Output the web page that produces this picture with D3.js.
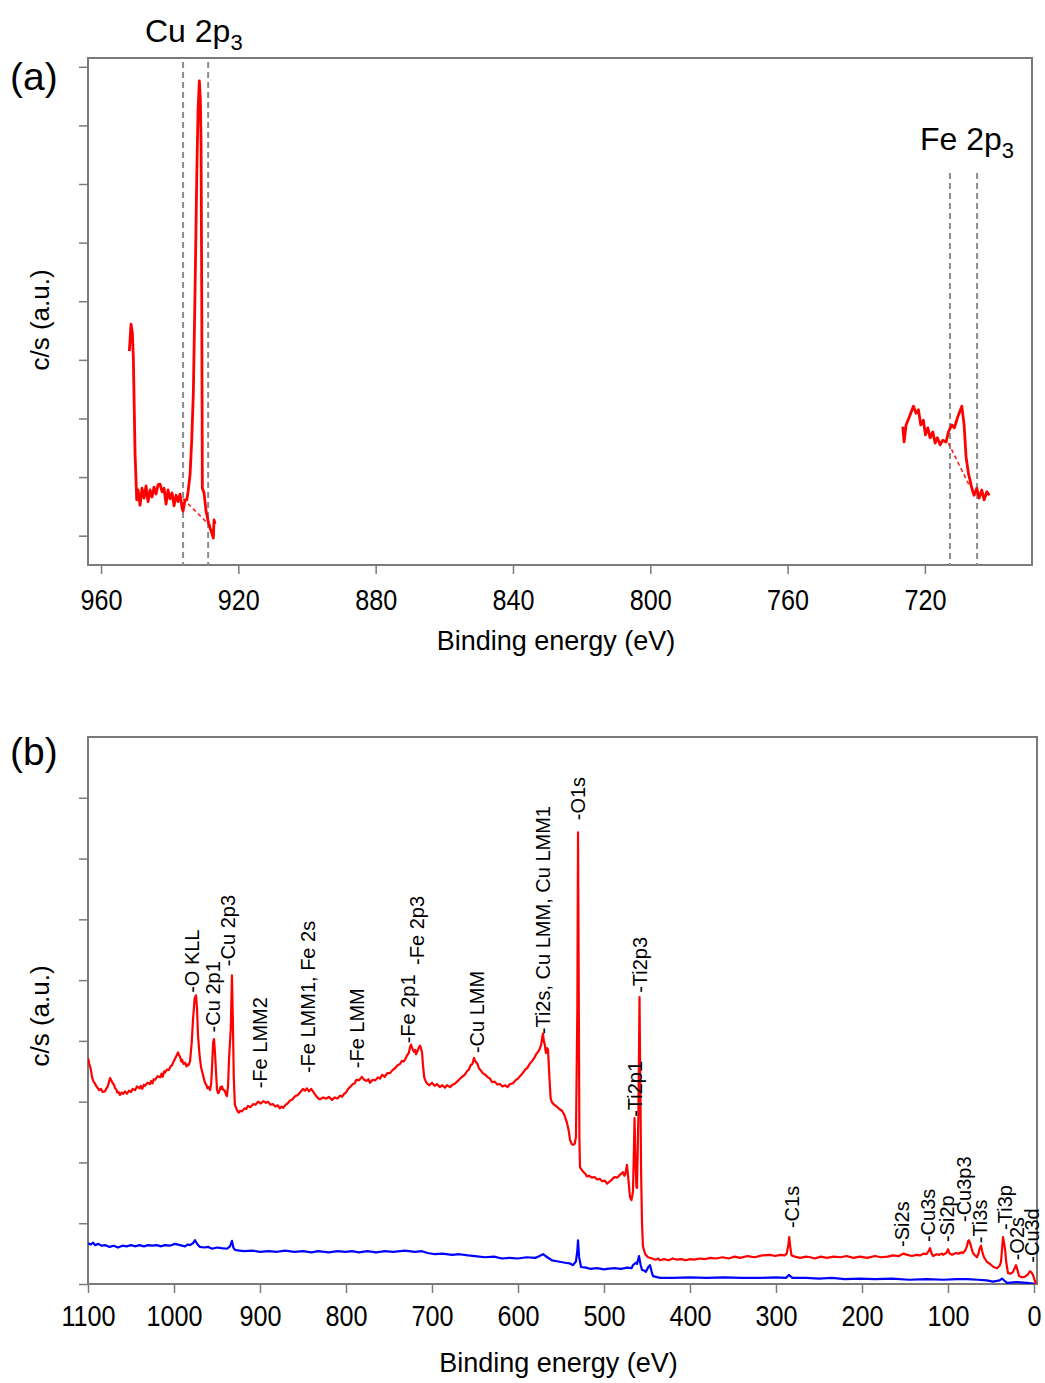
<!DOCTYPE html>
<html><head><meta charset="utf-8">
<script src="https://cdn.jsdelivr.net/npm/d3@7"></script>
<style>
html,body{margin:0;padding:0;background:#fff;}
svg{display:block;font-family:"Liberation Sans",Arial,Helvetica,sans-serif;}
</style></head>
<body>
<svg id="chart" width="1045" height="1383"></svg>
<script>
// ---------- Panel (a) data: binding energy (eV), intensity (a.u.) ----------
const aXTicks = [960, 920, 880, 840, 800, 760, 720];
const aYTicks = [0.5, 1.5, 2.5, 3.5, 4.5, 5.5, 6.5, 7.5, 8.5];
const cuRegion = [
 [951.76,3.65],[951.26,4.11],[950.88,3.96],[950.59,3.55],[950.09,1.89],[949.60,1.11],[949.22,1.28],
 [948.64,1.02],[948.06,1.31],[947.47,1.14],[946.89,1.35],[946.31,1.08],[945.72,1.28],[945.14,1.16],
 [944.56,1.33],[943.98,1.21],[943.39,1.37],[942.81,1.38],[942.23,1.25],[941.65,1.31],[941.06,1.04],
 [940.48,1.28],[939.90,1.13],[939.32,1.23],[938.73,1.01],[938.15,1.19],[937.57,1.08],[936.98,1.21],
 [936.40,0.97],[936.11,0.92],[935.53,1.11],[935.03,1.11],[934.65,1.25],[934.07,1.54],[933.58,2.13],
 [933.11,2.94],[932.61,4.69],[932.12,6.62],[931.74,7.76],[931.36,8.26],[931.07,7.94],[930.87,7.24],
 [930.66,4.52],[930.49,1.31],[929.99,1.23],[929.41,0.92],[928.74,0.73],[928.24,0.63],[927.75,0.55],
 [927.28,0.46],[927.08,0.77],[926.79,0.70]
];
const cuBackground = [[936.11,1.13],[928.24,0.67]];
const feRegion = [
 [726.44,2.36],[726.06,2.10],[725.48,2.39],[724.52,2.53],[723.35,2.71],[722.56,2.59],[721.89,2.65],
 [721.19,2.39],[720.44,2.47],[719.85,2.22],[719.15,2.34],[718.49,2.17],[717.70,2.27],[717.03,2.08],
 [716.36,2.17],[715.57,2.05],[714.79,2.13],[713.82,2.10],[713.15,2.27],[712.16,2.39],[711.41,2.34],
 [710.53,2.51],[709.25,2.71],[708.58,2.39],[708.00,1.84],[707.33,1.57],[706.34,1.31],[705.67,1.19],
 [704.88,1.31],[704.21,1.14],[703.42,1.28],[702.75,1.11],[701.97,1.25],[701.21,1.19]
];
const feBackground = [[713.15,2.08],[706.83,1.33]];
const cuMarkers = [936.1, 928.8];
const feMarkers = [712.7, 704.8];

// ---------- Panel (b) data ----------
const bXTicks = [1100, 1000, 900, 800, 700, 600, 500, 400, 300, 200, 100, 0];
const bYTicks = [0, 1, 2, 3, 4, 5, 6, 7, 8];
const surveyRed = [
 [1100,3.72],[1098.5,3.62],[1097,3.55],[1096,3.47],[1095.3,3.40],[1093.5,3.33],[1092,3.30],[1090.5,3.26],
 [1089.5,3.24],[1087,3.19],[1085,3.21],[1083,3.16],[1080.2,3.17],[1078.5,3.22],[1077,3.25],[1075.5,3.33],
 [1074.4,3.39],[1072.5,3.34],[1071,3.30],[1069.5,3.27],[1068.6,3.22],[1067,3.20],[1066,3.15],[1064.5,3.16],
 [1062.8,3.11],[1061,3.15],[1059,3.13],[1057,3.17],[1054.7,3.13],[1052.5,3.18],[1050,3.16],[1048,3.21],
 [1045.3,3.19],[1043,3.25],[1040,3.22],[1038.5,3.26],[1037,3.21],[1035,3.28],[1033.7,3.26],[1031,3.31],
 [1028,3.29],[1026.5,3.34],[1025,3.30],[1023.5,3.37],[1022.1,3.36],[1019,3.42],[1016,3.40],[1014.5,3.46],
 [1013,3.41],[1011.5,3.50],[1010.5,3.48],[1008,3.53],[1006,3.52],[1004,3.58],[1002.3,3.60],[1000.5,3.66],
 [999,3.70],[997,3.76],[995.3,3.81],[994,3.76],[993,3.74],[991.5,3.66],[990.7,3.69],[989,3.62],
 [987,3.64],[985.5,3.58],[984.9,3.61],[983,3.60],[981.4,3.66],[979.5,3.95],[977.9,4.35],[976,4.70],
 [974.4,4.75],[973.3,4.55],[972.1,4.10],[970.5,3.80],[968.6,3.57],[966.5,3.45],[964.0,3.31],[962.5,3.28],
 [961,3.22],[959.5,3.24],[958.1,3.19],[956.8,3.30],[955.8,3.55],[954.5,3.98],[953.5,4.03],[952.3,3.80],
 [951,3.45],[950,3.20],[948.8,3.14],[947.5,3.16],[946,3.24],[945,3.21],[944.2,3.25],[943,3.20],
 [941,3.18],[939.5,3.12],[938.4,3.09],[937.2,3.25],[936.0,3.70],[934,4.20],[932.6,5.08],[931.5,4.30],
 [930.5,3.40],[929.2,2.95],[927.9,2.90],[926,2.84],[924.5,2.82],[923.3,2.85],[921,2.84],[918,2.89],
 [916,2.88],[914.0,2.93],[911,2.91],[908,2.96],[905,2.95],[902.3,3.00],[899,2.97],[896,3.01],
 [893,2.98],[890.7,3.00],[888,2.95],[885,2.96],[882,2.92],[879.1,2.94],[877,2.89],[875,2.92],
 [873,2.90],[870.9,2.94],[868,2.97],[865,3.02],[862,3.04],[859.3,3.09],[856,3.11],[853,3.16],
 [850,3.21],[847.7,3.18],[845.5,3.22],[843,3.17],[840.5,3.21],[838.4,3.17],[836,3.12],[834,3.08],
 [832,3.05],[830.2,3.04],[826.5,3.07],[823,3.05],[820,3.08],[816.3,3.03],[813,3.07],[810,3.05],
 [807,3.10],[804.7,3.08],[802,3.13],[800,3.15],[797.5,3.21],[795.3,3.24],[792,3.29],[790,3.30],
 [788,3.36],[785,3.35],[781.4,3.41],[779,3.36],[776,3.34],[774,3.37],[772.1,3.31],[769,3.36],
 [766,3.35],[763,3.40],[760.5,3.38],[758,3.44],[755,3.41],[752,3.47],[748.8,3.47],[746,3.52],
 [743,3.55],[740,3.60],[737.2,3.62],[735,3.67],[733,3.66],[731,3.70],[729.1,3.76],[727,3.80],
 [725.5,3.90],[724.4,3.94],[722.5,3.86],[721,3.82],[719.5,3.85],[718.6,3.78],[717,3.83],[715,3.90],
 [713.8,3.92],[712.8,3.88],[711.5,3.80],[710.5,3.60],[709,3.40],[707.5,3.34],[705.8,3.30],[703,3.27],
 [700,3.31],[697,3.26],[694.2,3.29],[691,3.24],[688,3.27],[685,3.23],[682.6,3.27],[679,3.24],
 [676,3.28],[673,3.30],[670.9,3.33],[668,3.37],[665,3.41],[662,3.44],[659.3,3.50],[657,3.53],
 [655,3.60],[653,3.62],[651.2,3.72],[649.5,3.66],[647,3.62],[645.5,3.55],[644.2,3.53],[641,3.47],
 [638,3.44],[635,3.40],[632.6,3.38],[630,3.32],[627,3.33],[624,3.28],[620.9,3.29],[618,3.25],
 [615,3.27],[612,3.24],[609.3,3.29],[606,3.30],[603,3.35],[600,3.38],[597.7,3.42],[595,3.46],
 [592,3.52],[589,3.56],[586.0,3.63],[583,3.68],[581,3.72],[579,3.78],[576.7,3.82],[575,3.86],
 [573,3.94],[571.8,4.06],[570.9,4.12],[570,4.00],[569,3.95],[568,3.84],[567.4,3.80],[566.2,3.88],
 [565.1,3.86],[563.5,3.40],[562,3.05],[560.5,2.99],[558,2.95],[555,2.92],[552,2.88],[548.8,2.85],
 [546,2.78],[543.0,2.65],[541,2.52],[539.5,2.37],[537.5,2.30],[536.0,2.29],[534,2.31],[532.6,2.42],
 [531,4.50],[530.2,7.43],[529.4,5.00],[528.6,2.40],[527.9,1.92],[525,1.86],[523,1.83],[521,1.80],
 [519.8,1.77],[517,1.78],[514,1.75],[511,1.76],[508.1,1.72],[505,1.73],[502,1.69],[499,1.70],
 [496.5,1.65],[494,1.68],[492,1.70],[489.5,1.74],[487.2,1.76],[484.5,1.75],[482,1.79],[479.5,1.82],
 [477.9,1.84],[476.2,1.78],[475,1.82],[473.3,1.96],[471.5,1.70],[469.8,1.43],[468,1.38],[466.3,1.52],
 [465.2,2.20],[464.5,2.73],[463.5,2.10],[462.3,1.60],[461.6,1.58],[460,2.80],[458.7,4.72],[457.7,3.20],
 [456.8,1.80],[455.8,1.00],[454.7,0.62],[452,0.49],[448.8,0.44],[444,0.42],[440,0.40],[437,0.42],
 [434.9,0.39],[430,0.41],[425,0.39],[420,0.42],[415,0.40],[410,0.41],[405,0.39],[400,0.41],
 [395,0.40],[388.4,0.42],[383,0.41],[376,0.43],[370,0.42],[362,0.44],[355,0.42],[348,0.45],
 [341.9,0.43],[333,0.46],[325,0.44],[316,0.47],[307.0,0.48],[301,0.46],[295,0.48],[290,0.47],
 [287.5,0.50],[285.6,0.65],[284.6,0.77],[283.5,0.62],[282,0.47],[278,0.45],[272,0.43],[265,0.45],
 [260,0.44],[255,0.42],[248,0.45],[240.7,0.43],[233,0.45],[225,0.44],[218,0.46],[210,0.43],
 [202.3,0.45],[194,0.43],[185,0.46],[178,0.44],[170,0.45],[164.0,0.47],[157,0.46],[152.3,0.50],
 [147,0.48],[142,0.46],[137,0.48],[132.6,0.47],[128,0.50],[125,0.49],[122.5,0.54],[120.9,0.59],
 [119,0.50],[117.4,0.46],[113,0.49],[110,0.48],[107,0.50],[105.8,0.48],[102,0.51],[100.0,0.57],
 [98,0.50],[95.3,0.48],[91,0.51],[88,0.50],[84,0.52],[82.6,0.51],[80,0.55],[78,0.62],
 [76.5,0.71],[75.6,0.72],[74,0.66],[72.5,0.58],[70.9,0.51],[68.5,0.47],[66.3,0.44],[64.5,0.50],
 [63.5,0.57],[61.6,0.63],[60,0.52],[58.1,0.44],[55,0.37],[51.2,0.33],[47,0.28],[43.0,0.26],
 [40,0.30],[38.4,0.36],[37,0.60],[36.0,0.77],[34.8,0.68],[33.5,0.55],[32.2,0.35],[30.2,0.18],
 [27,0.17],[24.4,0.20],[22.5,0.26],[20.9,0.31],[19,0.22],[17.4,0.13],[14,0.11],[10.5,0.12],
 [7,0.16],[4.7,0.21],[3,0.19],[1.2,0.15],[-1,0.05],[-2.3,0.0]
];
const surveyBlue = [
 [1100.0,0.67],[1097,0.65],[1094,0.68],[1091.9,0.64],[1088,0.66],[1084,0.63],[1080.2,0.64],[1075,0.61],
 [1070,0.63],[1065.1,0.60],[1060,0.63],[1055,0.62],[1050,0.64],[1045.3,0.62],[1040,0.64],[1035,0.62],
 [1030,0.64],[1025.6,0.63],[1020,0.64],[1015,0.62],[1010.5,0.64],[1005,0.63],[998.8,0.66],[993,0.64],
 [987.2,0.62],[984,0.65],[981.4,0.64],[978,0.67],[975.6,0.72],[973,0.66],[969.8,0.61],[965,0.60],
 [960,0.61],[955.8,0.58],[950,0.60],[945,0.59],[938.4,0.58],[934.9,0.62],[932.6,0.71],[931,0.60],
 [929.1,0.56],[924,0.55],[918,0.54],[909.3,0.55],[900,0.53],[890,0.54],[880,0.53],[870.9,0.55],
 [860,0.53],[850,0.54],[840,0.52],[832.6,0.54],[820,0.52],[810,0.54],[800,0.53],[793.0,0.54],
 [785,0.52],[775,0.54],[765,0.52],[754.7,0.54],[745,0.53],[731.4,0.55],[720,0.53],[711.6,0.54],
 [705,0.51],[696.5,0.49],[688,0.50],[676.7,0.48],[668,0.49],[658.1,0.47],[650,0.46],[638.4,0.44],
 [628,0.45],[618.6,0.42],[610,0.43],[600.0,0.42],[590,0.44],[580,0.43],[576.7,0.45],[570.9,0.49],
 [566,0.44],[560.5,0.39],[553,0.37],[545.3,0.35],[540,0.34],[536.0,0.31],[532.6,0.37],[531,0.55],
 [530.2,0.72],[529,0.45],[526.7,0.28],[521,0.27],[516.3,0.25],[508,0.26],[500,0.24],[496.5,0.25],
 [488,0.26],[480,0.25],[473.3,0.27],[468,0.26],[466.3,0.31],[463,0.35],[461.6,0.33],[459.3,0.46],
 [457.5,0.32],[455.8,0.23],[453,0.22],[451.2,0.20],[448.5,0.28],[446.5,0.31],[444.5,0.20],[443.0,0.13],
 [434.9,0.10],[420,0.10],[400,0.11],[380.2,0.10],[360,0.11],[340,0.10],[318.6,0.10],[300,0.11],
 [288.4,0.10],[284.9,0.15],[281,0.10],[265,0.10],[250,0.09],[235,0.10],[220,0.08],[202.3,0.09],
 [185,0.08],[165,0.09],[145,0.07],[124.4,0.08],[105,0.07],[90,0.08],[77.9,0.08],[65,0.07],
 [55,0.06],[47.7,0.04],[40,0.06],[37.2,0.09],[34,0.05],[31.4,0.02],[20,0.03],[8.1,0.02],[-2.3,0.0]
];
const peakLabels = ["-O KLL","-Cu 2p1","-Cu 2p3","-Fe LMM2","-Fe LMM1, Fe 2s","-Fe LMM","-Fe 2p1","-Fe 2p3",
 "-Cu LMM","-Ti2s, Cu LMM, Cu LMM1","-O1s","-Ti2p3","-Ti2p1","-C1s","-Si2s","-Cu3s","-Si2p","-Cu3p3",
 "-Ti3s","-Ti3p","-O2s","-Cu3d"];
const peakEnergies = [979.1,954.7,937.2,900.0,844.2,787.2,727.9,717.4,647.7,570.9,530.2,458.1,464.0,
 281.4,153.5,123.3,101.2,81.4,62.8,33.7,19.8,2.3];
const peakHeights = [4.79,4.14,5.23,3.22,3.47,3.55,3.96,5.25,3.80,4.11,7.63,4.79,2.75,0.92,0.61,0.69,
 0.69,1.02,0.67,0.89,0.39,0.35];

// ---------- drawing ----------
const svg = d3.select("#chart");
const FRAME = "#7a7a7a";
const FONT = "\"Liberation Sans\",Arial,Helvetica,sans-serif";

function panel(cfg){
  const g = svg.append("g");
  const x = d3.scaleLinear().domain(cfg.xDomain).range([cfg.left, cfg.right]);
  const y = d3.scaleLinear().domain(cfg.yDomain).range([cfg.bottom, cfg.top]);
  const clipId = "clip" + cfg.id;
  svg.append("clipPath").attr("id", clipId).append("rect")
     .attr("x", cfg.left).attr("y", cfg.top).attr("width", cfg.right - cfg.left).attr("height", cfg.bottom - cfg.top);
  g.append("rect").attr("x", cfg.left).attr("y", cfg.top)
   .attr("width", cfg.right - cfg.left).attr("height", cfg.bottom - cfg.top)
   .attr("fill", "none").attr("stroke", FRAME).attr("stroke-width", 2);
  const xa = g.append("g").attr("transform", `translate(0,${cfg.bottom})`)
    .call(d3.axisBottom(x).tickValues(cfg.xTicks).tickSize(9).tickSizeOuter(0).tickFormat(d3.format("d")));
  xa.select(".domain").remove();
  xa.selectAll(".tick line").attr("stroke", FRAME).attr("stroke-width", 1.5);
  xa.selectAll(".tick text").attr("y", cfg.tickLabelOffset).attr("dy", "0.71em")
    .attr("fill", "#000").attr("font-family", FONT).attr("font-size", 30)
    .attr("transform", "scale(0.84,1)");
  const ya = g.append("g").attr("transform", `translate(${cfg.left},0)`)
    .call(d3.axisLeft(y).tickValues(cfg.yTicks).tickSize(9).tickSizeOuter(0).tickFormat(""));
  ya.select(".domain").remove();
  ya.selectAll(".tick line").attr("stroke", FRAME).attr("stroke-width", 1.5);
  g.append("text").attr("x", (cfg.left + cfg.right) / 2 - 4).attr("y", cfg.xTitleY)
   .attr("text-anchor", "middle").attr("font-size", 27).attr("fill", "#000").text("Binding energy (eV)");
  g.append("text").attr("transform", `translate(${cfg.yTitleX},${cfg.yTitleY}) rotate(-90)`)
   .attr("text-anchor", "middle").attr("dominant-baseline", "central")
   .attr("font-size", 26).attr("fill", "#000").text("c/s (a.u.)");
  g.append("text").attr("x", 10).attr("y", cfg.letterY).attr("font-size", 39).attr("fill", "#000").text(cfg.letter);
  const plot = g.append("g").attr("clip-path", `url(#${clipId})`);
  return {x, y, g, plot};
}

// Panel (a)
const A = panel({id:"a", left:88, right:1032, top:58, bottom:565,
  xDomain:[963.8, 688.8], yDomain:[0, 8.65], xTicks:aXTicks, yTicks:aYTicks,
  tickLabelOffset:24, xTitleY:650, yTitleX:40, yTitleY:320, letter:"(a)", letterY:90});
const lineA = d3.line().x(d => A.x(d[0])).y(d => A.y(d[1]));
A.plot.selectAll(".cum").data(cuMarkers).enter().append("line")
  .attr("x1", d => A.x(d)).attr("x2", d => A.x(d)).attr("y1", 62).attr("y2", 565)
  .attr("stroke", "#8c8c8c").attr("stroke-width", 2).attr("stroke-dasharray", "6,4");
A.plot.selectAll(".fem").data(feMarkers).enter().append("line")
  .attr("x1", d => A.x(d)).attr("x2", d => A.x(d)).attr("y1", 173).attr("y2", 565)
  .attr("stroke", "#8c8c8c").attr("stroke-width", 2).attr("stroke-dasharray", "6,4");
[cuBackground, feBackground].forEach(bg => {
  A.plot.append("path").datum(bg).attr("d", lineA).attr("fill", "none")
   .attr("stroke", "#ff2020").attr("stroke-width", 1.6).attr("stroke-dasharray", "4,3");
});
[cuRegion, feRegion].forEach(r => {
  A.plot.append("path").datum(r).attr("d", lineA).attr("fill", "none")
   .attr("stroke", "#ff0000").attr("stroke-width", 2.8).attr("stroke-linejoin", "round");
});
function regionLabel(xp, yp, main){
  const t = A.g.append("text").attr("x", xp).attr("y", yp).attr("font-size", 32).attr("fill", "#000");
  t.append("tspan").text(main);
  t.append("tspan").attr("font-size", 22).attr("dy", 8).text("3");
}
regionLabel(145, 42, "Cu 2p");
regionLabel(920, 150, "Fe 2p");

// Panel (b)
const B = panel({id:"b", left:88, right:1037, top:737, bottom:1284,
  xDomain:[1100, -3.5], yDomain:[0, 9], xTicks:bXTicks, yTicks:bYTicks,
  tickLabelOffset:21, xTitleY:1372, yTitleX:40, yTitleY:1016, letter:"(b)", letterY:765});
const lineB = d3.line().x(d => B.x(d[0])).y(d => B.y(d[1]));
B.plot.append("path").datum(surveyBlue).attr("d", lineB).attr("fill", "none")
  .attr("stroke", "#0000ff").attr("stroke-width", 2.2).attr("stroke-linejoin", "round");
B.plot.append("path").datum(surveyRed).attr("d", lineB).attr("fill", "none")
  .attr("stroke", "#ff0000").attr("stroke-width", 2.2).attr("stroke-linejoin", "round");
B.g.selectAll(".pl").data(peakLabels).enter().append("text")
  .attr("transform", (d, i) => `translate(${B.x(peakEnergies[i])},${B.y(peakHeights[i])}) rotate(-90)`)
  .attr("dominant-baseline", "central").attr("text-anchor", "start")
  .attr("font-size", 20).attr("fill", "#000").text(d => d);
</script>
</body></html>
